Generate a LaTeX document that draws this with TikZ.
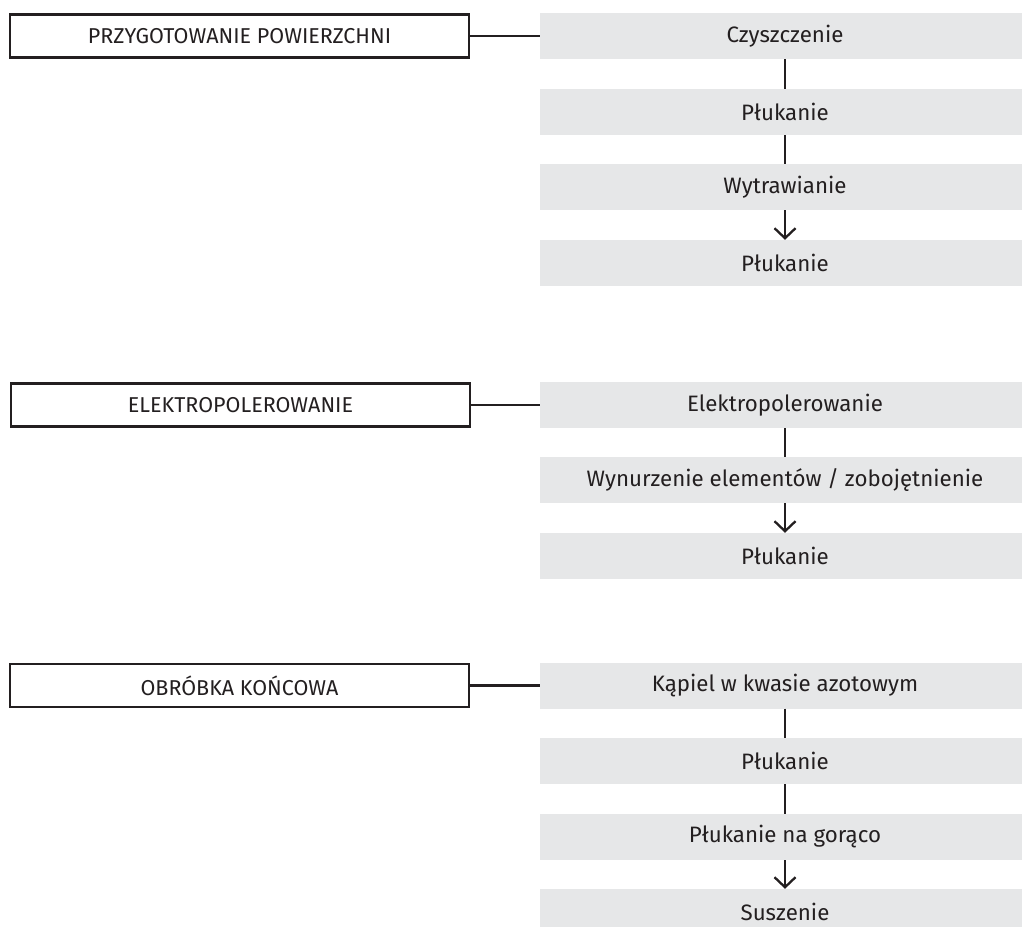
\documentclass[tikz,border=0pt]{standalone}
\usepackage{fontspec}
\setmainfont{Fira Sans}
\usetikzlibrary{arrows.meta}
\definecolor{boxgray}{HTML}{E6E7E8}
\definecolor{ink}{HTML}{231F20}
\begin{document}
\begin{tikzpicture}[x=1pt,y=-1pt,
  phase/.style={draw=ink,line width=2.3pt,fill=white,minimum width=459pt,minimum height=43pt,inner sep=0pt,text=ink,font=\fontsize{21.5}{24}\selectfont},
  stepbox/.style={fill=boxgray,minimum width=490pt,minimum height=46pt,inner sep=0pt,text=ink,font=\fontsize{22.3}{24}\selectfont},
  link/.style={draw=ink,line width=2.3pt},
  arr/.style={draw=ink,line width=2.3pt,-{Straight Barb[length=10pt,width=21pt,line width=2.3pt]}}]
\useasboundingbox (0,0) rectangle (1022,926);
\clip (0,0) rectangle (1022,926);
% Section 1
\node[phase] (p1) at (239.5,36) {PRZYGOTOWANIE POWIERZCHNI};
\node[stepbox] (a1) at (785,36) {Czyszczenie};
\node[stepbox] (a2) at (785,112) {Płukanie};
\node[stepbox] (a3) at (785,187) {Wytrawianie};
\node[stepbox] (a4) at (785,263) {Płukanie};
\draw[link] (p1.east) -- (a1.west);
\draw[link] (a1.south) -- (a2.north);
\draw[link] (a2.south) -- (a3.north);
\draw[arr] (a3.south) -- (a4.north);
% Section 2
\node[phase] (p2) at (240.5,405) {ELEKTROPOLEROWANIE};
\node[stepbox] (b1) at (785,405) {Elektropolerowanie};
\node[stepbox] (b2) at (785,480) {Wynurzenie elementów / zobojętnienie};
\node[stepbox] (b3) at (785,556) {Płukanie};
\draw[link] (p2.east) -- (b1.west);
\draw[link] (b1.south) -- (b2.north);
\draw[arr] (b2.south) -- (b3.north);
% Section 3
\node[phase] (p3) at (239.5,685.5) {OBRÓBKA KOŃCOWA};
\node[stepbox] (c1) at (785,685.5) {Kąpiel w kwasie azotowym};
\node[stepbox] (c2) at (785,761) {Płukanie};
\node[stepbox] (c3) at (785,837) {Płukanie na gorąco};
\node[stepbox] (c4) at (785,912) {Suszenie};
\draw[link] (p3.east) -- (c1.west);
\draw[link] (c1.south) -- (c2.north);
\draw[link] (c2.south) -- (c3.north);
\draw[arr] (c3.south) -- (c4.north);
\end{tikzpicture}
\end{document}
